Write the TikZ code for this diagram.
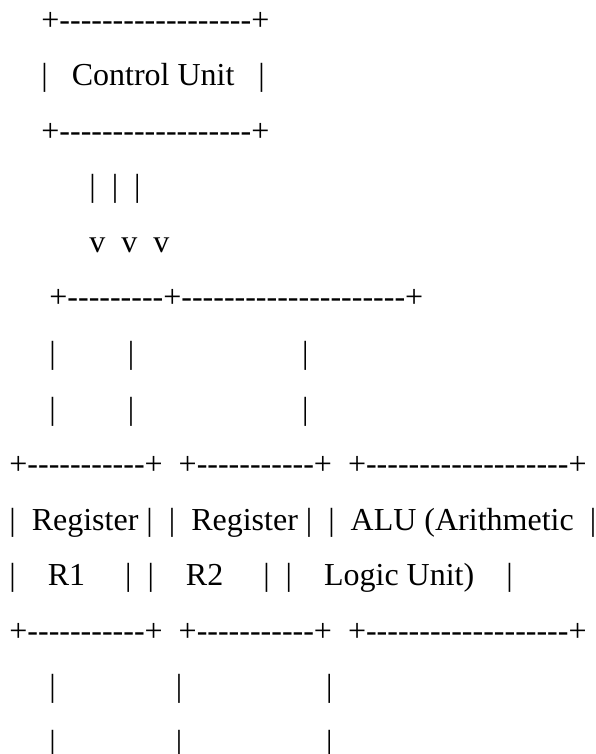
\documentclass[tikz,border=0pt]{standalone}
\usepackage{fontspec}
\setmainfont{Liberation Serif}
\newcommand\spc[1]{\hspace*{#1\fontdimen2\font}}
\newcommand\dsh[1]{\foreach\i in {1,...,#1}{-\kern0pt}}
\begin{document}
\begin{tikzpicture}[x=1pt,y=1pt,
  asc/.style={anchor=base west,inner sep=0pt,outer sep=0pt,
    font=\fontsize{32}{40}\selectfont\frenchspacing}]
\fill[white] (0,0) rectangle (596,754);
\useasboundingbox (0,0) rectangle (596,754);
\node[asc] (l1)  at (9.4,723.97) {\spc{4}+\dsh{18}+};
\node[asc] (l2)  at (9.4,668.40) {\spc{4}|\spc{3}Control Unit\spc{3}|};
\node[asc] (l3)  at (9.4,612.83) {\spc{4}+\dsh{18}+};
\node[asc] (l4)  at (9.4,557.26) {\spc{10}|\spc{2}|\spc{2}|};
\node[asc] (l5)  at (9.4,501.69) {\spc{10}v\spc{2}v\spc{2}v};
\node[asc] (l6)  at (9.4,446.12) {\spc{5}+\dsh{9}+\dsh{21}+};
\node[asc] (l7)  at (9.4,390.55) {\spc{5}|\spc{9}|\spc{21}|};
\node[asc] (l8)  at (9.4,334.98) {\spc{5}|\spc{9}|\spc{21}|};
\node[asc] (l9)  at (9.4,279.41) {+\dsh{11}+\spc{2}+\dsh{11}+\spc{2}+\dsh{19}+};
\node[asc] (l10) at (9.4,223.84) {|\spc{2}Register\spc{1}|\spc{2}|\spc{2}Register\spc{1}|\spc{2}|\spc{2}ALU (Arithmetic\spc{2}|};
\node[asc] (l11) at (9.4,168.27) {|\spc{4}R1\spc{5}|\spc{2}|\spc{4}R2\spc{5}|\spc{2}|\spc{4}Logic Unit)\spc{4}|};
\node[asc] (l12) at (9.4,112.70) {+\dsh{11}+\spc{2}+\dsh{11}+\spc{2}+\dsh{19}+};
\node[asc] (l13) at (9.4,57.13)  {\spc{5}|\spc{15}|\spc{18}|};
\node[asc] (l14) at (9.4,1.56)   {\spc{5}|\spc{15}|\spc{18}|};
\end{tikzpicture}
\end{document}
